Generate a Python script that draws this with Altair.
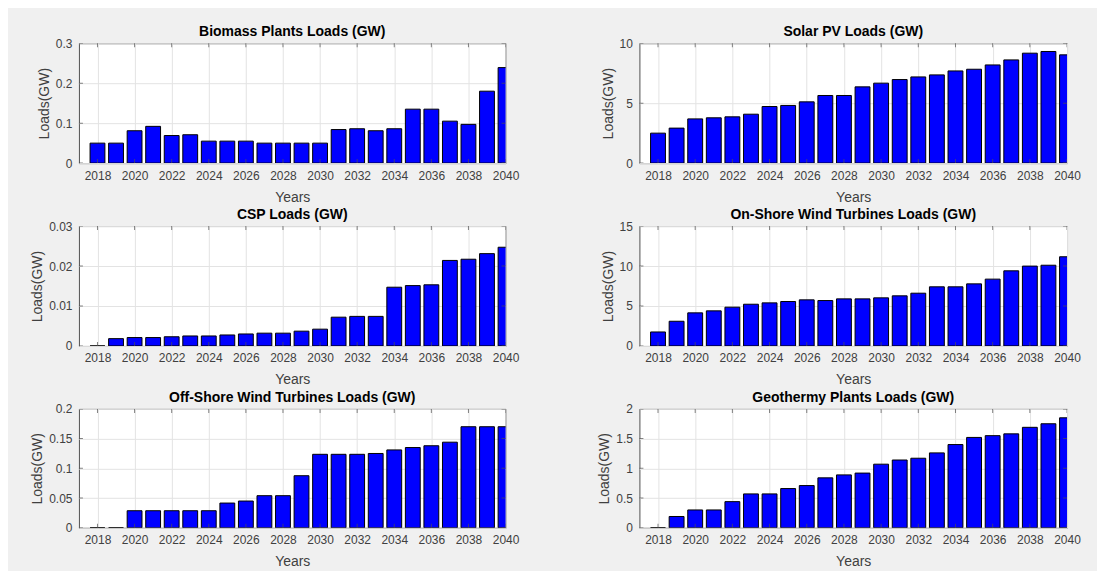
import altair as alt
import pandas as pd

years = list(range(2018, 2041))

biomass = [0.050, 0.050, 0.081, 0.092, 0.069, 0.071, 0.055, 0.055, 0.055, 0.050, 0.050, 0.050,
           0.050, 0.084, 0.086, 0.081, 0.086, 0.135, 0.135, 0.105, 0.097, 0.180, 0.239]
solar_pv = [2.50, 2.92, 3.69, 3.78, 3.86, 4.08, 4.72, 4.81, 5.11, 5.64, 5.64, 6.36,
            6.67, 6.97, 7.19, 7.36, 7.69, 7.83, 8.19, 8.61, 9.17, 9.31, 9.03]
csp = [0.0, 0.00183, 0.0021, 0.0021, 0.0023, 0.0025, 0.0025, 0.00275, 0.0030, 0.0032, 0.0032, 0.0037,
       0.0042, 0.0072, 0.0074, 0.0074, 0.0147, 0.0151, 0.0153, 0.0214, 0.0217, 0.0231, 0.0247]
onshore = [1.75, 3.09, 4.14, 4.39, 4.85, 5.22, 5.39, 5.56, 5.77, 5.68, 5.89, 5.89,
           6.02, 6.27, 6.60, 7.40, 7.40, 7.77, 8.36, 9.40, 9.99, 10.10, 11.16]
offshore = [0.0, 0.0, 0.0287, 0.0287, 0.0287, 0.0287, 0.0287, 0.0416, 0.045, 0.054, 0.054, 0.0876,
            0.1236, 0.1236, 0.1236, 0.125, 0.131, 0.135, 0.138, 0.144, 0.170, 0.170, 0.170]
geothermy = [0.0, 0.19, 0.30, 0.30, 0.44, 0.57, 0.57, 0.66, 0.71, 0.84, 0.89, 0.92,
             1.07, 1.14, 1.17, 1.26, 1.40, 1.52, 1.55, 1.58, 1.69, 1.75, 1.85]

year_ticks = list(range(2018, 2041, 2))

FONT = "Liberation Sans"
LABEL_COLOR = "#404040"
AXIS_COLOR = "#505050"


def panel(title, values, ymax, yticks, width, height):
    df = pd.DataFrame({"year": years, "value": values})
    xscale = alt.Scale(domain=[2017, 2040], nice=False, zero=False)
    yscale = alt.Scale(domain=[0, ymax], nice=False)
    xaxis = alt.Axis(values=year_ticks, format="d", title="Years")
    yaxis = alt.Axis(values=yticks, format="~r", title="Loads(GW)")
    bars = (
        alt.Chart(df)
        .transform_calculate(x0="datum.year - 0.4", x1="datum.year + 0.4")
        .mark_bar(color="#0000ff", stroke="black", strokeWidth=1, clip=True)
        .encode(
            x=alt.X("x0:Q", scale=xscale, axis=xaxis),
            x2="x1:Q",
            y=alt.Y("value:Q", scale=yscale, axis=yaxis),
            y2=alt.datum(0),
        )
    )
    xt = pd.DataFrame({"x0": year_ticks})
    yt = pd.DataFrame({"value": yticks})
    tick_style = dict(clip=True, size=8, thickness=1, color=AXIS_COLOR)
    xb = alt.Chart(xt).mark_tick(orient="vertical", **tick_style).encode(
        x=alt.X("x0:Q", scale=xscale, axis=xaxis), y=alt.value(height))
    xtop = alt.Chart(xt).mark_tick(orient="vertical", **tick_style).encode(
        x=alt.X("x0:Q", scale=xscale, axis=xaxis), y=alt.value(0))
    yl = alt.Chart(yt).mark_tick(orient="horizontal", **tick_style).encode(
        y=alt.Y("value:Q", scale=yscale, axis=yaxis), x=alt.value(0))
    yr = alt.Chart(yt).mark_tick(orient="horizontal", **tick_style).encode(
        y=alt.Y("value:Q", scale=yscale, axis=yaxis), x=alt.value(width))
    return alt.layer(bars, xb, xtop, yl, yr).properties(width=width, height=height, title=title)


p1 = panel("Biomass Plants Loads (GW)", biomass, 0.3, [0, 0.1, 0.2, 0.3], 427, 120)
p2 = panel("Solar PV Loads (GW)", solar_pv, 10, [0, 5, 10], 428, 120)
p3 = panel("CSP Loads (GW)", csp, 0.03, [0, 0.01, 0.02, 0.03], 427, 120)
p4 = panel("On-Shore Wind Turbines Loads (GW)", onshore, 15, [0, 5, 10, 15], 428, 120)
p5 = panel("Off-Shore Wind Turbines Loads (GW)", offshore, 0.2, [0, 0.05, 0.1, 0.15, 0.2], 427, 119)
p6 = panel("Geothermy Plants Loads (GW)", geothermy, 2, [0, 0.5, 1, 1.5, 2], 428, 119)

chart = (
    alt.concat(p1, p2, p3, p4, p5, p6, columns=2, spacing={"column": 134, "row": 63}, bounds="flush")
    .properties(background="#f0f0f0", padding={"left": 22, "top": 16, "right": 16, "bottom": 4})
    .configure_view(fill="white", stroke=AXIS_COLOR, strokeWidth=1)
    .configure_axis(
        labelFont=FONT,
        labelFontSize=12,
        labelColor=LABEL_COLOR,
        titleFont=FONT,
        titleFontSize=14,
        titleFontWeight="normal",
        titleColor=LABEL_COLOR,
        grid=True,
        gridColor="#e3e3e3",
        gridWidth=1,
        domain=False,
        ticks=False,
    )
    .configure_axisX(labelPadding=7, titlePadding=9, labelOverlap=False, labelBound=False, labelFlush=False)
    .configure_axisY(labelPadding=7, titlePadding=4)
    .configure_title(font=FONT, fontSize=14, fontWeight="bold", color="black", offset=-2)
)

chart.save("out.html", embed_options={"renderer": "svg", "actions": False})
